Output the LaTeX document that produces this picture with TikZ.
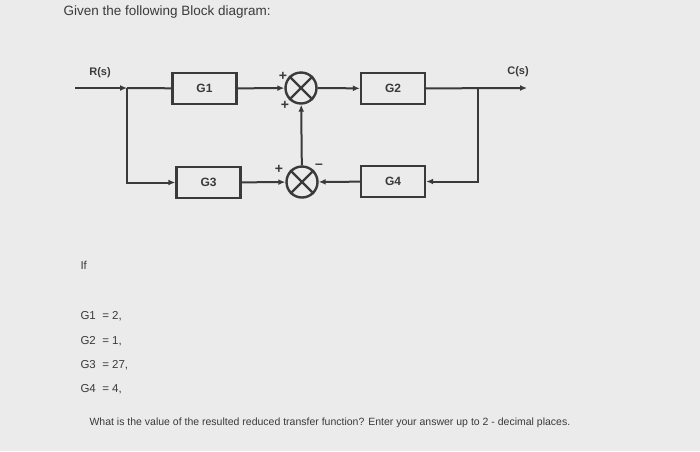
\documentclass[tikz,border=0pt]{standalone}
\usepackage{fontspec}
\setmainfont{Liberation Sans}
\usetikzlibrary{arrows.meta}
\definecolor{bg}{HTML}{EBEBEB}
\definecolor{ink}{HTML}{3A3A3A}
\begin{document}
\begin{tikzpicture}[x=1pt,y=-1pt,
  blk/.style={draw=ink,line width=2.4pt,minimum width=64pt,minimum height=31pt,font=\fontsize{12}{14}\selectfont\bfseries,text=ink},
  sumj/.style={draw=ink,line width=2.4pt,circle,minimum size=31pt,inner sep=0pt},
  sig/.style={draw=ink,line width=2pt,-{Latex[length=7pt,width=6pt]}},
  ln/.style={draw=ink,line width=2pt},
  lab/.style={font=\fontsize{11}{13}\selectfont\bfseries,text=ink},
  txt/.style={text=ink,anchor=west,font=\fontsize{11.5}{13}\selectfont}]
\fill[bg] (0,0) rectangle (700,451);
\useasboundingbox (0,0) rectangle (700,451);
\node[txt,font=\fontsize{13.5}{15}\selectfont] (title) at (60,12) {Given the following Block diagram:};
\node[blk] (g1) at (204.5,88.5) {G1};
\node[blk] (g2) at (393,88.5) {G2};
\node[blk] (g3) at (208.5,182.5) {G3};
\node[blk] (g4) at (393,181.5) {G4};
\node[sumj] (s1) at (301,88) {};
\node[sumj] (s2) at (302,182) {};
\foreach \s in {s1,s2}{\draw[ink,line width=2.2pt] (\s.north west)--(\s.south east) (\s.north east)--(\s.south west);}
\coordinate (in) at (75,88);
\coordinate (br) at (127,88);
\coordinate (out) at (527,88);
\coordinate (bo) at (478,88);
\node[lab] (rs) at (100,73) {R(s)};
\node[lab] (cs) at (518,72) {C(s)};
\draw[sig] (in) -- (br);
\draw[ln] (br) -- (g1);
\draw[sig] (br) |- (g3);
\draw[sig] (g1) -- (s1);
\draw[sig] (s1) -- (g2);
\draw[sig] (g2) -- (out);
\draw[sig] (bo) |- (g4);
\draw[sig] (g4) -- (s2);
\draw[sig] (g3) -- (s2);
\draw[sig] (s2) -- (s1);
\node[lab,font=\fontsize{14}{14}\selectfont\bfseries] (p1) at (283,76) {+};
\node[lab,font=\fontsize{14}{14}\selectfont\bfseries] (p2) at (285,105) {+};
\node[lab,font=\fontsize{14}{14}\selectfont\bfseries] (p3) at (279,169) {+};
\node[lab,font=\fontsize{14}{14}\selectfont\bfseries] (m1) at (319,166) {--};
\node[txt] (if) at (77,265) {If};
\node[txt] (a) at (77,316) {G1 \ = 2,};
\node[txt] (b) at (77,341) {G2 \ = 1,};
\node[txt] (c) at (77,365) {G3 \ = 27,};
\node[txt] (d) at (77,389) {G4 \ = 4,};
\node[txt,font=\fontsize{10.5}{12}\selectfont] (q) at (86,423) {What is the value of the resulted reduced transfer function? Enter your answer up to 2 - decimal places.};
\end{tikzpicture}
\end{document}
